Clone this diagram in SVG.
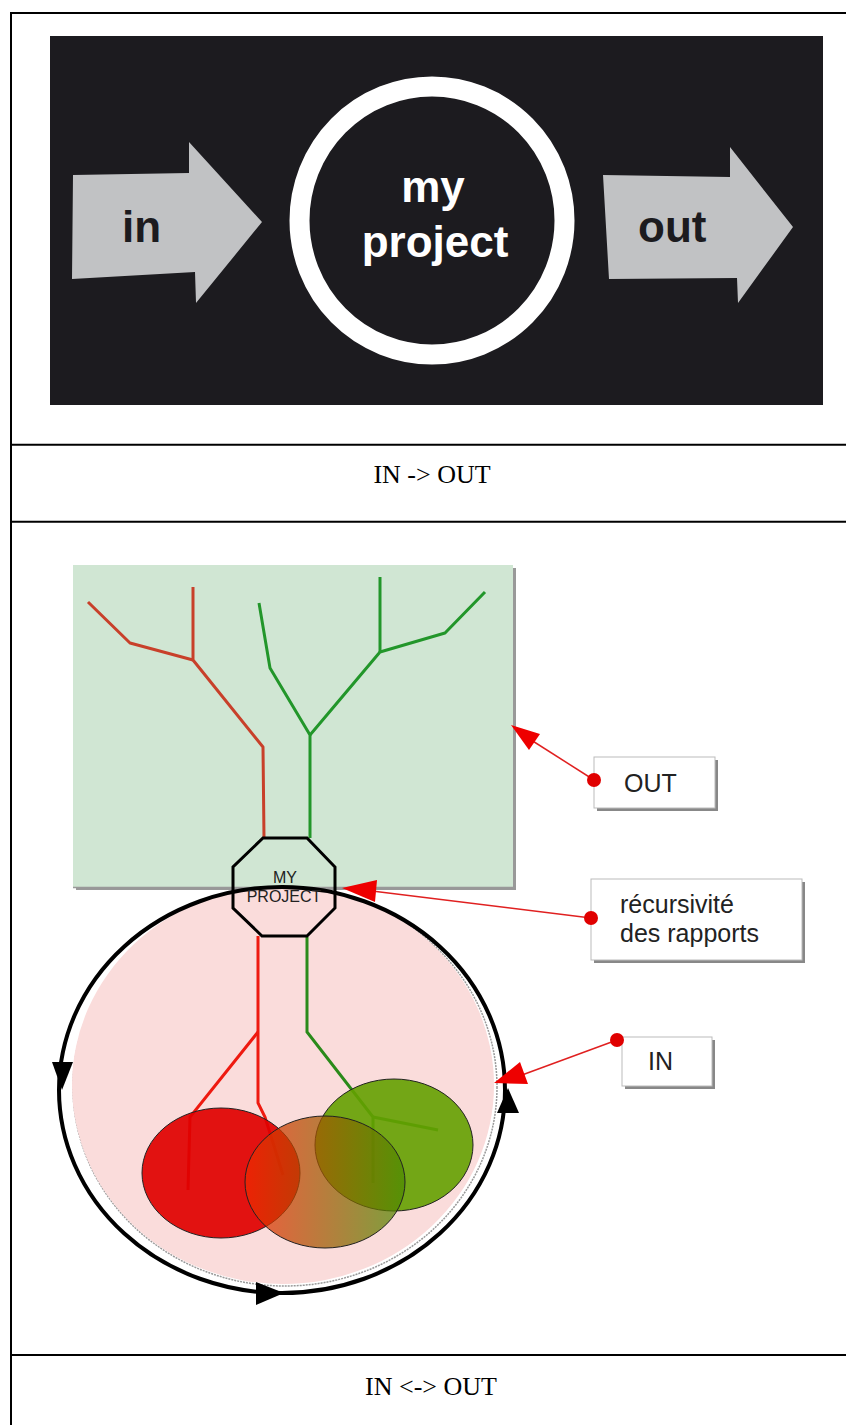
<svg xmlns="http://www.w3.org/2000/svg" width="846" height="1425" viewBox="0 0 846 1425">
<style>
.tb{stroke:#000;stroke-width:2;fill:none}
.cap{font-family:"Liberation Serif","Times New Roman",serif;font-size:26px;fill:#000;text-anchor:middle}
.big{font-family:"Liberation Sans",Arial,sans-serif;font-weight:bold;font-size:44px}
.arw{fill:#c1c2c4}
.rt{stroke:#c8402a;stroke-width:3;fill:none;stroke-linejoin:round}
.gt{stroke:#22962a;stroke-width:3;fill:none;stroke-linejoin:round}
.rl{stroke:#ee1a10;stroke-width:3;fill:none}
.gl{stroke:#2a8a1a;stroke-width:3;fill:none}
.box{fill:#fff;stroke:#bbb;stroke-width:1}
.shadow{fill:#888}
.lbl{font-family:"Liberation Sans",Arial,sans-serif;font-size:25px;fill:#222}
.call{stroke:#e02020;stroke-width:1.5;fill:none}
.dot{fill:#e00000}
.head{fill:#ee0000}
.bh{fill:#000}
</style>
<defs>
<linearGradient id="mix" x1="0" y1="0" x2="1" y2="0">
<stop offset="0" stop-color="#f02800"/>
<stop offset="1" stop-color="#4a8a00"/>
</linearGradient>
</defs>

<g id="table">
<line class="tb" x1="11" y1="13" x2="846" y2="13"/>
<line class="tb" x1="11" y1="12" x2="11" y2="1425"/>
<line class="tb" x1="11" y1="444.7" x2="846" y2="444.7"/>
<line class="tb" x1="11" y1="521.7" x2="846" y2="521.7"/>
<line class="tb" x1="11" y1="1355" x2="846" y2="1355"/>
<text class="cap" x="432" y="483">IN -&gt; OUT</text>
<text class="cap" x="431" y="1395">IN &lt;-&gt; OUT</text>
</g>

<g id="top-image">
<rect x="50" y="36" width="773" height="369" fill="#1c1b1f"/>
<g id="in-arrow">
<polygon class="arw" points="73,175 189,173 189,142 262,222 196,303 195,272 72,279"/>
<text class="big" x="122" y="242" fill="#1c1b1f">in</text>
</g>
<g id="project">
<ellipse cx="432" cy="220.5" rx="132.5" ry="134" fill="none" stroke="#fff" stroke-width="20"/>
<text class="big" x="433" y="202" fill="#fff" text-anchor="middle">my</text>
<text class="big" x="435" y="257" fill="#fff" text-anchor="middle">project</text>
</g>
<g id="out-arrow">
<polygon class="arw" points="603,175 730,177 730,147 793,227 738,303 737,278 609,279"/>
<text class="big" x="638" y="242" fill="#1c1b1f">out</text>
</g>
</g>

<g id="diagram">
<g id="out-area">
<rect x="76" y="568" width="440" height="322" fill="#999"/>
<rect x="73" y="565" width="440" height="322" fill="#d0e6d3"/>
</g>
<g id="in-area">
<ellipse cx="285" cy="1087" rx="212" ry="199" fill="none" stroke="#999" stroke-width="1.5" stroke-dasharray="2 1"/>
<path d="M 73 887 L 493 887 A 211 199 0 1 1 73 887 Z" fill="none"/>
<ellipse cx="283" cy="1085" rx="211" ry="199" fill="#fadcdb"/>
<rect x="73" y="865" width="440" height="22" fill="#d0e6d3"/>
<line x1="73" y1="887.5" x2="516" y2="887.5" stroke="#999" stroke-width="1.5"/>
</g>

<g id="tree-out">
<polyline class="rt" points="88,602 130,643 193,660"/>
<polyline class="rt" points="193,587 193,660 263,747 264,838"/>
<polyline class="gt" points="259,603 270,668 310,735 310,838"/>
<polyline class="gt" points="310,735 380,652 445,633 485,592"/>
<polyline class="gt" points="380,577 380,652"/>
</g>

<g id="roots-in">
<polyline class="rl" points="258,936 258,1103 265,1117 283,1175"/>
<polyline class="rl" points="258,1032 190,1117 188,1190"/>
<polyline class="gl" points="307,937 307,1032 373,1117 373,1183"/>
<polyline class="gl" points="373,1117 438,1130"/>
</g>

<g id="loop">
<ellipse cx="282" cy="1090" rx="223" ry="203" fill="none" stroke="#000" stroke-width="4"/>
<polygon class="bh" points="52,1062 73,1062 62,1090"/>
<polygon class="bh" points="508,1088 497,1113 519,1113"/>
<polygon class="bh" points="256,1282 284,1293 256,1305"/>
</g>

<g id="ellipses">
<ellipse cx="221" cy="1173" rx="79" ry="65" fill="#e00000" fill-opacity="0.92" stroke="#222" stroke-width="1"/>
<ellipse cx="394" cy="1145" rx="79" ry="66" fill="#64a000" fill-opacity="0.9" stroke="#222" stroke-width="1"/>
<ellipse cx="325" cy="1182" rx="80" ry="66" fill="url(#mix)" fill-opacity="0.72" stroke="#222" stroke-width="1"/>
</g>

<g id="my-project">
<polygon points="263,838 307,838 335,867 335,908 307,936 262,936 233,908 233,867" fill="none" stroke="#000" stroke-width="3"/>
<text class="lbl" x="285" y="883" font-size="16" text-anchor="middle" fill="#333" style="font-size:16px">MY</text>
<text class="lbl" x="284" y="902" text-anchor="middle" fill="#333" style="font-size:16px">PROJECT</text>
</g>

<g id="label-out">
<rect class="shadow" x="597" y="760" width="121" height="51"/>
<rect class="box" x="594" y="757" width="121" height="51"/>
<text class="lbl" x="624" y="792">OUT</text>
</g>
<g id="label-rec">
<rect class="shadow" x="594" y="882" width="211" height="81"/>
<rect class="box" x="591" y="879" width="211" height="81"/>
<text class="lbl" x="620" y="913">récursivité</text>
<text class="lbl" x="620" y="942">des rapports</text>
</g>
<g id="label-in">
<rect class="shadow" x="625" y="1040" width="90" height="49"/>
<rect class="box" x="622" y="1037" width="90" height="49"/>
<text class="lbl" x="648" y="1070">IN</text>
</g>

<g id="connectors">
<line class="call" x1="594" y1="780" x2="528" y2="738"/>
<polygon class="head" points="511,725 540,734 529,750"/>
<circle class="dot" cx="594" cy="780" r="7"/>
<line class="call" x1="591" y1="918" x2="372" y2="891"/>
<polygon class="head" points="342,888 377,880 375,902"/>
<circle class="dot" cx="591" cy="918" r="7"/>
<line class="call" x1="617" y1="1040" x2="522" y2="1075"/>
<polygon class="head" points="494,1083 520,1062 528,1084"/>
<circle class="dot" cx="617" cy="1040" r="7"/>
</g>
</g>
</svg>
